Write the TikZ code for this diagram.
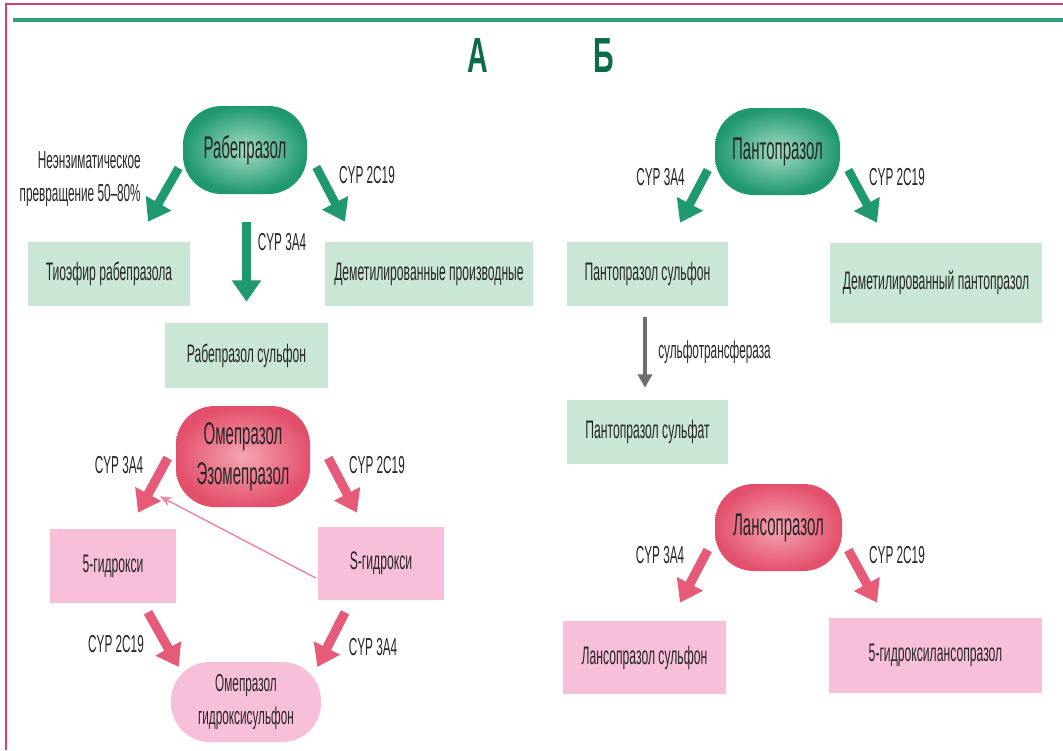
\documentclass[tikz,border=0pt]{standalone}
\usepackage{fontspec}
\setmainfont[FakeStretch=0.48]{Liberation Sans}
\newfontfamily\letterfont[FakeStretch=0.58]{Liberation Sans}
\usetikzlibrary{arrows.meta,calc}

\definecolor{grnarrow}{HTML}{1E9A6E}
\definecolor{grndark}{HTML}{1F9870}
\definecolor{grnlight}{HTML}{A3DCC2}
\definecolor{grnbox}{HTML}{C9E7D4}
\definecolor{reddark}{HTML}{E3506B}
\definecolor{redlight}{HTML}{F5A5B2}
\definecolor{pinkbox}{HTML}{F8BFDA}
\definecolor{pinkarrow}{HTML}{E65C78}
\definecolor{pinkthin}{HTML}{EC86A6}
\definecolor{framepink}{HTML}{D83E70}
\definecolor{topline}{HTML}{2E9E7C}
\definecolor{lettergrn}{HTML}{0C6A48}
\definecolor{txt}{HTML}{262626}
\definecolor{greyarrow}{HTML}{6E6E6E}

\begin{document}
\begin{tikzpicture}[%
      x=0.75pt, y=-0.75pt,
      every node/.style={text=txt, inner sep=0pt},
      capsule/.style={rounded corners=29pt, align=center, font=\fontsize{23.5}{30}\selectfont},
      gcapsule/.style={capsule, inner color=grnlight, outer color=grndark},
      rcapsule/.style={capsule, inner color=redlight, outer color=reddark},
      gbox/.style={fill=grnbox, font=\fontsize{19}{24}\selectfont},
      pbox/.style={fill=pinkbox, font=\fontsize{19}{24}\selectfont},
      lbl/.style={font=\fontsize{18.4}{25}\selectfont},
      letter/.style={text=lettergrn, font=\letterfont\fontsize{37}{40}\selectfont\bfseries},
      garrow/.style={draw=grnarrow, line width=6.5pt, -{Triangle[length=16pt,width=21pt]}},
      parrow/.style={draw=pinkarrow, line width=7pt, -{Triangle[length=16pt,width=21pt]}},
      ]
      \useasboundingbox (0,0) rectangle (1063,750);
      \fill [white] (0,0) rectangle (1063,750);
      \draw [framepink, line width=2.2pt] (6,750) -- (6,4) -- (1063,4);
      \draw [topline, line width=3pt] (13,20) -- (1063,20);

      \node [letter] (la) at (477.5,55.5) {А};
      \node [letter] (lb) at (603.5,55.5) {Б};

      % rabeprazole
      \node [gcapsule, minimum width=93pt, minimum height=66pt] (rab) at (245,150) {Рабепразол};
      \node [gbox, minimum width=121.5pt, minimum height=48pt] (tio) at (109,274) {Тиоэфир рабепразола};
      \node [gbox, minimum width=156pt, minimum height=48pt] (demet) at (429,274) {Деметилированные производные};
      \node [gbox, minimum width=122.25pt, minimum height=48.75pt] (rabsulf) at (246.5,355.5) {Рабепразол сульфон};
      \node [lbl, align=right, anchor=east] (nonenz) at (141,179) {Неэнзиматическое\\превращение 50–80\%};
      \node [lbl] (rab3a4) at (282,242) {CYP 3A4};
      \node [lbl] (rab2c19) at (367,175) {CYP 2C19};
      \draw [garrow] ($(rab.west)+(-4,18)$) -- ($(tio.north)+(39,-20)$);
      \draw [garrow] ($(rab.east)+(9,17)$) -- ($(demet.north)+(-84,-20)$);
      \draw [garrow] ($(rab.south)+(1.5,28)$) -- ($(rabsulf.north)+(0,-21)$);

      % omeprazole
      \node [rcapsule, minimum width=100.5pt, minimum height=75.75pt] (ome) at (243,456.5) {Омепразол\\Эзомепразол};
      \node [pbox, minimum width=94.5pt, minimum height=55.5pt] (hyd5) at (113,566) {5-гидрокси};
      \node [pbox, minimum width=94.5pt, minimum height=54.75pt] (shyd) at (381,563.5) {S-гидрокси};
      \node [capsule, fill=pinkbox, minimum width=112.5pt, minimum height=60pt,
             font=\fontsize{18.4}{25}\selectfont] (hsulf) at (246,702) {Омепразол\\гидроксисульфон};
      \node [lbl] (ome3a4) at (119,465) {CYP 3A4};
      \node [lbl] (ome2c19) at (377,465) {CYP 2C19};
      \node [lbl] (hyd2c19) at (116,644) {CYP 2C19};
      \node [lbl] (hyd3a4) at (373,647) {CYP 3A4};
      \draw [parrow] ($(ome.west)+(-8,1.5)$) -- ($(hyd5.north)+(25,-16)$);
      \draw [parrow] ($(ome.east)+(18,1.5)$) -- ($(shyd.north)+(-24,-14)$);
      \draw [parrow] ($(hyd5.south)+(35,9)$) -- ($(hsulf.west)+(8,-35)$);
      \draw [parrow] ($(shyd.south)+(-36,12)$) -- ($(hsulf.east)+(-4,-35)$);
      \draw [pinkthin, line width=1.1pt, -{Stealth[length=9pt,width=7pt]}]
            ($(shyd.west)+(-2,14.5)$) -- ($(ome.south west)+(-16,-11)$);

      % pantoprazole
      \node [gcapsule, minimum width=93.75pt, minimum height=65.25pt] (pant) at (777.5,151.5) {Пантопразол};
      \node [gbox, minimum width=120.75pt, minimum height=48pt] (pantsulf) at (647.5,274) {Пантопразол сульфон};
      \node [gbox, minimum width=159pt, minimum height=60pt] (demetp) at (936,283) {Деметилированный пантопразол};
      \node [gbox, minimum width=120.75pt, minimum height=48pt] (pantsulfat) at (647.5,432) {Пантопразол сульфат};
      \node [lbl] (pant3a4) at (660.5,177) {CYP 3A4};
      \node [lbl] (pant2c19) at (897,177) {CYP 2C19};
      \node [lbl, anchor=west] (sulfotr) at (658,352) {сульфотрансфераза};
      \draw [garrow] ($(pant.west)+(-7,18.5)$) -- ($(pantsulf.north)+(32.5,-19)$);
      \draw [garrow] ($(pant.east)+(8,18.5)$) -- ($(demetp.north)+(-59,-20)$);
      \draw [greyarrow, line width=3pt, -{Triangle[length=10pt,width=10.5pt]}]
            ($(pantsulf.south)+(-2.5,11)$) -- ($(pantsulfat.north)+(-2.5,-12)$);

      % lansoprazole
      \node [rcapsule, minimum width=95.25pt, minimum height=65.25pt] (lans) at (778.5,527.5) {Лансопразол};
      \node [pbox, minimum width=122.25pt, minimum height=54.75pt] (lanssulf) at (644.5,657.5) {Лансопразол сульфон};
      \node [pbox, minimum width=159.75pt, minimum height=56.25pt] (hlans) at (935.5,655.5) {5-гидроксилансопразол};
      \node [lbl] (lans3a4) at (660,555) {CYP 3A4};
      \node [lbl] (lans2c19) at (897,555) {CYP 2C19};
      \draw [parrow] ($(lans.west)+(-7,22.5)$) -- ($(lanssulf.north)+(35.5,-18)$);
      \draw [parrow] ($(lans.east)+(6,22.5)$) -- ($(hlans.north)+(-58.5,-15)$);
\end{tikzpicture}
\end{document}
